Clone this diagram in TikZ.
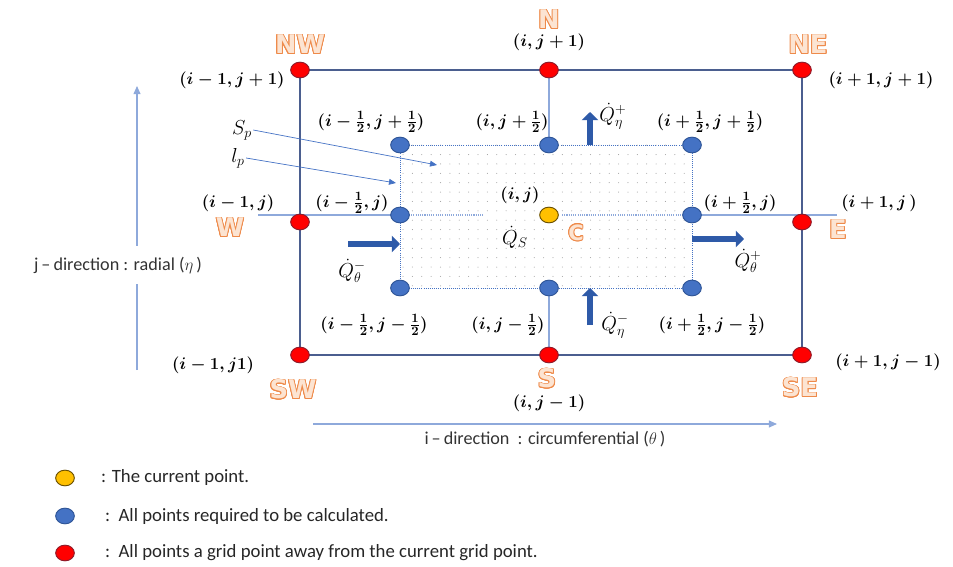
\documentclass[tikz,border=0pt]{standalone}
\usepackage{fontspec}
\setmainfont{Carlito}
\newfontfamily\cmpfont{DejaVu Sans}
\usepackage{contour}
\usetikzlibrary{arrows.meta,shapes.geometric,patterns.meta}
\definecolor{ptR}{HTML}{FF0000}
\definecolor{ptRd}{HTML}{8E1B2A}
\definecolor{ptB}{HTML}{4472C4}
\definecolor{ptBd}{HTML}{2F5597}
\definecolor{ptY}{HTML}{FFC000}
\definecolor{ptYd}{HTML}{6B5000}
\definecolor{frm}{HTML}{4B5E8F}
\definecolor{thn}{HTML}{8EA9DB}
\definecolor{fat}{HTML}{2E5AA8}
\definecolor{cmpO}{HTML}{EE8A4A}
\definecolor{cmpF}{HTML}{FCE4D2}
\pgfdeclarelayer{bg}
\pgfsetlayers{bg,main}
\contourlength{0.7pt}
\newcommand{\cmp}[1]{\contour{cmpO}{\textcolor{cmpF}{#1}}}
\tikzset{
  gridpt/.style={ellipse, minimum width=0.56cm, minimum height=0.47cm, inner sep=0pt, line width=0.8pt},
  redpt/.style={gridpt, fill=ptR, draw=ptRd},
  bluept/.style={gridpt, fill=ptB, draw=ptBd},
  curpt/.style={gridpt, fill=ptY, draw=ptYd},
  frame/.style={frm, line width=1.3pt},
  gridline/.style={thn, line width=0.9pt},
  cellline/.style={ptB, line width=0.8pt, densely dotted},
  thinarr/.style={-{Triangle[length=6pt,width=5pt]}, ptB, line width=0.6pt},
  dirarr/.style={-{Triangle[length=7pt,width=6pt]}, thn, line width=1pt},
  fatarr/.style={-{Triangle[length=7pt,width=14pt]}, fat, line width=5pt},
  ijlab/.style={font=\fontsize{15}{17}\selectfont\boldmath, inner sep=1pt},
  qlab/.style={font=\fontsize{17}{19}\selectfont, inner sep=1pt},
  cmplab/.style={font=\fontsize{22}{24}\selectfont\cmpfont\bfseries, inner sep=0pt},
  dirlab/.style={font=\fontsize{15.5}{18}\selectfont, text=black!80},
  legtext/.style={font=\fontsize{16}{18}\selectfont, text=black!85, anchor=west},
}
\begin{document}
\begin{tikzpicture}[x=0.03cm,y=-0.03cm]
\useasboundingbox (0,0) rectangle (953,567);

% neighbour grid points (red)
\node[redpt] (NW) at (300,70) {};
\node[redpt] (N) at (549,70) {};
\node[redpt] (NE) at (802,70) {};
\node[redpt] (W) at (300,222) {};
\node[redpt] (E) at (802,222) {};
\node[redpt] (SW) at (300,355) {};
\node[redpt] (S) at (549,355) {};
\node[redpt] (SE) at (802,355) {};

% control volume points (blue) and current point
\node[bluept] (BNW) at (400,145) {};
\node[bluept] (BN) at (549,145) {};
\node[bluept] (BNE) at (692,145) {};
\node[bluept] (BW) at (400,215) {};
\node[bluept] (BE) at (692,215) {};
\node[bluept] (BSW) at (400,288) {};
\node[bluept] (BS) at (549,288) {};
\node[bluept] (BSE) at (692,288) {};
\node[curpt] (C) at (549,215) {};

\coordinate (wL) at (258,215);
\coordinate (cL) at (483,215);
\coordinate (cR) at (562,215);
\coordinate (eR) at (837,215);

\begin{pgfonlayer}{bg}
  \fill[pattern={Dots[radius=0.45pt,distance=8pt]}, pattern color=gray!75]
    (BNW.center) rectangle (BSE.center);
  \draw[cellline] (BNW.center) rectangle (BSE.center);
  \draw[frame] (NW.center) -- (NE.center) -- (SE.center) -- (SW.center) -- cycle;
  \draw[gridline] (N.center) -- (BN.center);
  \draw[gridline] (BS.center) -- (S.center);
  \draw[gridline] (wL) -- (BW.center);
  \draw[gridline, densely dotted] (BW.center) -- (cL);
  \draw[gridline, densely dotted] (cR) -- (BE.center);
  \draw[gridline] (BE.center) -- (eR);
\end{pgfonlayer}

% compass letters
\node[cmplab] (lNW) at (300,45) {\cmp{NW}};
\node[cmplab] (lN) at (549,20) {\cmp{N}};
\node[cmplab] (lNE) at (808,45) {\cmp{NE}};
\node[cmplab] (lW) at (230,228) {\cmp{W}};
\node[cmplab] (lE) at (838,230) {\cmp{E}};
\node[cmplab] (lSW) at (293,390) {\cmp{SW}};
\node[cmplab] (lS) at (547,379) {\cmp{S}};
\node[cmplab] (lSE) at (800,388) {\cmp{SE}};
\node[cmplab, font=\fontsize{18}{20}\selectfont\cmpfont\bfseries] (lC) at (576,233) {\cmp{C}};

% index labels
\node[ijlab] (iN) at (549,42) {$(i,j+1)$};
\node[ijlab] (iNW) at (232,80) {$(i-1,j+1)$};
\node[ijlab] (iNE) at (881,80) {$(i+1,j+1)$};
\node[ijlab] (iBNW) at (371,122) {$(i-\frac{1}{2},j+\frac{1}{2})$};
\node[ijlab] (iBN) at (512,122) {$(i,j+\frac{1}{2})$};
\node[ijlab] (iBNE) at (710,122) {$(i+\frac{1}{2},j+\frac{1}{2})$};
\node[ijlab] (iW) at (238,203) {$(i-1,j)$};
\node[ijlab] (iBW) at (352,203) {$(i-\frac{1}{2},j)$};
\node[ijlab] (iC) at (520,195) {$(i,j)$};
\node[ijlab] (iBE) at (740,203) {$(i+\frac{1}{2},j)$};
\node[ijlab] (iE) at (879,203) {$(i+1,j\,)$};
\node[ijlab] (iBSW) at (374,325) {$(i-\frac{1}{2},j-\frac{1}{2})$};
\node[ijlab] (iBS) at (508,325) {$(i,j-\frac{1}{2})$};
\node[ijlab] (iBSE) at (712,325) {$(i+\frac{1}{2},j-\frac{1}{2})$};
\node[ijlab] (iSW) at (213,365) {$(i-1,j1)$};
\node[ijlab] (iSE) at (888,362) {$(i+1,j-1)$};
\node[ijlab] (iS) at (549,403) {$(i,j-1)$};

% heat flows
\coordinate (qnpA) at (590,145);
\coordinate (qnpB) at (590,112);
\coordinate (qnmA) at (590,325);
\coordinate (qnmB) at (590,288);
\coordinate (qtmA) at (348,244);
\coordinate (qtmB) at (400,244);
\coordinate (qtpA) at (692,239);
\coordinate (qtpB) at (744,239);
\draw[fatarr] (qnpA) -- (qnpB);
\draw[fatarr] (qnmA) -- (qnmB);
\draw[fatarr] (qtmA) -- (qtmB);
\draw[fatarr] (qtpA) -- (qtpB);
\node[qlab, anchor=west] (Qnp) at (598,116) {$\dot{Q}_{\eta}^{+}$};
\node[qlab, anchor=west] (Qnm) at (600,325) {$\dot{Q}_{\eta}^{-}$};
\node[qlab] (Qtm) at (352,271) {$\dot{Q}_{\theta}^{-}$};
\node[qlab] (Qtp) at (748,261) {$\dot{Q}_{\theta}^{+}$};
\node[qlab] (Qs) at (515,237) {$\dot{Q}_{S}$};

% surface and length
\node[qlab] (Sp) at (242,130) {$S_p$};
\node[qlab] (lp) at (238,158) {$l_p$};
\coordinate (spT) at (437,165);
\coordinate (lpT) at (396,183);
\draw[thinarr] (Sp.east) -- (spT);
\draw[thinarr] (lp.east) -- (lpT);

% directions
\node[dirlab, fill=white, inner ysep=9pt] (jdir) at (118,265) {j\,–\,direction : radial ($\eta$\,)};
\coordinate (jfoot) at (137,370);
\coordinate (jtip) at (137,86);
\draw[thn, line width=1pt] (jfoot) -- (jfoot |- jdir.south);
\draw[dirarr] (jfoot |- jdir.north) -- (jtip);
\coordinate (ifoot) at (313,424);
\coordinate (itip) at (777,424);
\draw[dirarr] (ifoot) -- (itip);
\node[dirlab, anchor=north] (idir) at (545,427) {i\,–\,direction\ \ : circumferential ($\theta$\,)};

% legend
\node[curpt] (kC) at (65,478) {};
\node[bluept] (kB) at (65,516) {};
\node[redpt] (kR) at (65,553) {};
\node[legtext] (tC) at (97,477) {: The current point.};
\node[legtext] (tB) at (101,516) {:\ \ All points required to be calculated.};
\node[legtext] (tR) at (101,553) {:\ \ All points a grid point away from the current grid point.};

\end{tikzpicture}
\end{document}
